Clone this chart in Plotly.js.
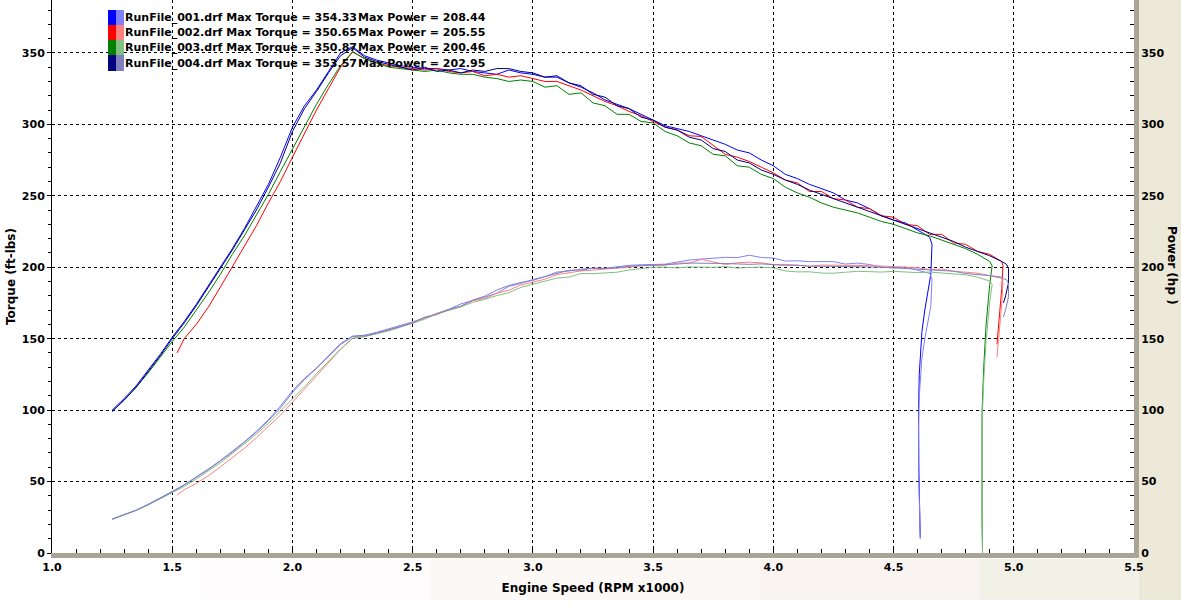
<!DOCTYPE html>
<html>
<head>
<meta charset="utf-8">
<script src="https://cdn.plot.ly/plotly-3.0.1.min.js"></script>
<style>html,body{margin:0;padding:0;background:#fff;}#chart{width:1181px;height:616px;}</style>
</head>
<body>
<div id="chart"></div>
<script>
// ---- Data ----
const runNames = ["RunFile_001.drf", "RunFile_002.drf", "RunFile_003.drf", "RunFile_004.drf"];
const maxTorque = ["354.33", "350.65", "350.87", "353.57"];
const maxPower = ["208.44", "205.55", "200.46", "202.95"];

const rpm001 = [1.25,1.30,1.35,1.40,1.45,1.50,1.55,1.60,1.65,1.70,1.75,1.80,1.85,1.90,1.95,2.00,2.05,2.10,2.15,2.20,2.25,
2.30,2.35,2.40,2.45,2.50,2.55,2.60,2.65,2.70,2.75,2.80,2.85,2.90,2.95,
3.00,3.05,3.10,3.15,3.20,3.25,3.30,3.35,3.40,3.45,3.50,3.55,3.60,3.65,3.70,3.75,3.80,3.85,3.90,3.95,
4.00,4.05,4.10,4.15,4.20,4.25,4.30,4.35,4.40,4.45,4.50,4.55,4.60,4.65,
4.66,4.655,4.63,4.618,4.607,4.604,4.605,4.608,4.611];
const tq001 = [100,108,117,128,139,151,162,174,187,200,213,227,242,258,277,298,313,324,337,350,354.3,
348,345,343,341,340,339,339,338,339,337,336,335,338,336,
335,333,333,329,326,322,317,314,311,307,303,299,297,295,292,289,286,282,280,275,
271,265,262,258,255,252,247,245,241,236,233,231,226,221,
216,195,170,155,125,100,60,30,11];
const hp001 = [23.8,26.7,30.1,34.1,38.4,43.1,47.8,53.0,58.7,64.7,71.0,77.8,85.2,93.3,102.8,113.5,122.2,129.5,138.0,146.6,151.8,
152.4,154.4,156.7,159.1,161.8,164.6,167.8,170.5,174.3,176.5,179.1,181.8,186.6,188.7,
191.4,193.4,196.6,197.3,198.6,199.3,199.2,200.3,201.3,201.7,201.9,202.1,203.6,205.0,205.7,206.4,206.9,206.7,208.4,206.8,
206.4,204.3,204.5,203.9,203.9,203.9,202.2,202.9,201.9,200.0,199.6,200.1,197.9,195.7,
191.6,172.8,149.9,136.3,109.7,87.7,52.6,26.3,9.7];

const rpm002 = [1.52,1.55,1.60,1.65,1.70,1.75,1.80,1.85,1.90,1.95,2.00,2.05,2.10,2.15,2.20,2.25,
2.30,2.35,2.40,2.45,2.50,2.55,2.60,2.65,2.70,2.75,2.80,2.85,2.90,2.95,
3.00,3.05,3.10,3.15,3.20,3.25,3.30,3.35,3.40,3.45,3.50,3.55,3.60,3.65,3.70,3.75,3.80,3.85,3.90,3.95,
4.00,4.05,4.10,4.15,4.20,4.25,4.30,4.35,4.40,4.45,4.50,4.55,4.60,4.65,4.70,4.75,4.80,4.85,4.90,4.95,
4.955,4.95,4.94,4.93];
const tq002 = [140,150,160,172,186,200,214,229,245,260,277,294,310,325,340,350.6,
346,343,341,340,339,338,339,337,336,337,334,335,333,334,
332,330,330,327,324,320,316,313,309,306,302,298,296,292,291.5,285,279,277,274,270,
266,261,259,253,253,248,247,242,241,236,235,230,229,223,223,217,216,211,209,204,
201,185,165,146];
const hp002 = [40.5,44.3,48.7,54.0,60.2,66.6,73.3,80.7,88.6,96.5,105.5,114.8,124.0,133.0,142.4,150.2,
151.5,153.5,155.8,158.6,161.4,164.1,167.8,170.0,172.7,176.5,178.1,181.8,183.9,187.6,
189.6,191.6,194.8,196.1,197.4,198.0,198.6,199.6,200.0,201.0,201.3,201.4,202.9,202.9,205.5,203.5,201.9,203.1,203.5,203.1,
201.8,202.0,201.4,200.7,201.5,201.5,201.4,201.3,201.1,200.8,200.5,200.1,199.7,198.3,198.7,197.2,196.5,195.8,194.1,193.2,
189.6,174.4,155.2,137.0];

const rpm003 = [1.25,1.30,1.35,1.40,1.45,1.50,1.55,1.60,1.65,1.70,1.75,1.80,1.85,1.90,1.95,2.00,2.05,2.10,2.15,2.20,2.25,
2.30,2.35,2.40,2.45,2.50,2.55,2.60,2.65,2.70,2.75,2.80,2.85,2.90,2.95,
3.00,3.05,3.10,3.15,3.20,3.25,3.30,3.35,3.40,3.45,3.50,3.55,3.60,3.65,3.70,3.75,3.80,3.85,3.90,3.95,
4.00,4.05,4.10,4.15,4.20,4.25,4.30,4.35,4.40,4.45,4.50,4.55,4.60,4.65,4.70,4.75,4.80,4.85,4.90,
4.91,4.90,4.885,4.875,4.868,4.867,4.868,4.870];
const tq003 = [99,107,116,126,137,148,158,170,182,195,209,222,236,251,267,283,298,314,328,341,350.9,
346,343,340,339,338,337,338,336,335,335,333,332,330,331,
330,326,327,321,322,315,313,307,307,302,301,295,292,287,285,279,278,271,270,265,
262,256,252,249,245,242,240,238,235,232,230,227,224,222,219,216,213,209,204,
201,188,160,130,98,60,25,0];
const hp003 = [23.6,26.5,29.8,33.6,37.8,42.3,46.6,51.8,57.2,63.1,69.6,76.1,83.1,90.8,99.1,107.8,116.3,125.5,134.3,142.8,150.3,
151.5,153.5,155.4,158.1,160.9,163.6,167.3,169.5,172.2,175.4,177.5,180.2,182.2,185.9,
187.9,189.9,192.4,193.1,195.6,195.5,196.0,196.5,198.1,199.0,199.9,200.1,199.5,200.2,200.1,199.9,200.4,199.4,199.8,200.1,
199.5,197.4,196.7,196.8,195.9,195.8,196.5,197.1,196.9,196.6,197.1,196.7,196.2,196.6,196.0,195.4,194.7,193.0,190.3,
187.9,175.4,148.8,120.7,90.8,55.6,23.2,0];

const rpm004 = [1.25,1.30,1.35,1.40,1.45,1.50,1.55,1.60,1.65,1.70,1.75,1.80,1.85,1.90,1.95,2.00,2.05,2.10,2.15,2.20,2.25,
2.30,2.35,2.40,2.45,2.50,2.55,2.60,2.65,2.70,2.75,2.80,2.85,2.90,2.95,
3.00,3.05,3.10,3.15,3.20,3.25,3.30,3.35,3.40,3.45,3.50,3.55,3.60,3.65,3.70,3.75,3.80,3.85,3.90,3.95,
4.00,4.05,4.10,4.15,4.20,4.25,4.30,4.35,4.40,4.45,4.50,4.55,4.60,4.65,4.70,4.75,4.80,4.85,4.90,4.95,
4.97,4.978,4.978,4.966,4.957];
const tq004 = [99,107,116,127,138,150,161,173,186,199,212,226,240,256,273,295,311,323,336,348,353.6,
347,344,342,340,338,340,337,338,336,338,337,339,339,337,
336,333,334,329,327,321,319,313,311,305,303,298,296,291,289,283,281,275,273,268,
265,261,258,254,251,248,245,242,239,236,233,230,227,224,221,218,214,211,208,204,
202,199,189,180,175];
const hp004 = [23.6,26.5,29.8,33.9,38.1,42.8,47.5,52.7,58.4,64.4,70.6,77.5,84.5,92.6,101.4,112.3,121.4,129.2,137.5,145.8,151.5,
152.0,153.9,156.3,158.6,160.9,165.1,166.8,170.5,172.7,177.0,179.7,184.0,187.2,189.3,
190.8,193.4,195.4,197.9,198.0,199.3,199.2,199.6,200.7,201.0,201.3,202.1,202.2,202.9,202.9,202.8,202.6,202.3,202.0,202.3,
201.8,201.3,201.4,200.7,200.7,200.7,200.6,200.4,200.2,200.0,199.6,199.3,198.8,198.3,197.8,197.2,195.6,194.8,194.1,192.3,
191.2,188.6,179.1,170.2,165.2];

const xTicks = [1.0,1.5,2.0,2.5,3.0,3.5,4.0,4.5,5.0,5.5];
const yTicks = [0,50,100,150,200,250,300,350];

// ---- Styles ----
const torqueColors = ["#0000ff", "#ff0000", "#008000", "#000080"];
const powerColors = ["#8080ff", "#ff8080", "#80c080", "#8080c0"];
const FONT = "DejaVu Sans";

const rpms = [rpm001, rpm002, rpm003, rpm004];
const tqs = [tq001, tq002, tq003, tq004];
const hps = [hp001, hp002, hp003, hp004];

const traces = [];
for (let i = 0; i < 4; i++) {
  traces.push({type: "scatter", mode: "lines", x: rpms[i], y: hps[i], yaxis: "y2",
    name: runNames[i] + " Power", line: {color: powerColors[i], width: 1}, hoverinfo: "skip"});
}
for (let i = 0; i < 4; i++) {
  traces.push({type: "scatter", mode: "lines", x: rpms[i], y: tqs[i], yaxis: "y",
    name: runNames[i] + " Torque", line: {color: torqueColors[i], width: 1}, hoverinfo: "skip"});
}

// pixel -> paper helpers for the legend block and background bands
const PL = 52, PR = 1134, PT = 0, PB = 553;
const px = v => (v - PL) / (PR - PL);
const py = v => (PB - v) / (PB - PT);

const shapes = [
  {type: "rect", xref: "paper", yref: "paper", x0: px(1139), x1: px(1181), y0: py(600), y1: py(0), fillcolor: "#ece9d8", line: {width: 0}, layer: "below"},
  {type: "rect", xref: "paper", yref: "paper", x0: px(200), x1: px(430), y0: py(600), y1: py(559), fillcolor: "#fefcfc", line: {width: 0}, layer: "below"},
  {type: "rect", xref: "paper", yref: "paper", x0: px(430), x1: px(760), y0: py(600), y1: py(559), fillcolor: "#fbf8f6", line: {width: 0}, layer: "below"},
  {type: "rect", xref: "paper", yref: "paper", x0: px(760), x1: px(980), y0: py(600), y1: py(559), fillcolor: "#f9f3f1", line: {width: 0}, layer: "below"},
  {type: "rect", xref: "paper", yref: "paper", x0: px(980), x1: px(1139), y0: py(600), y1: py(559), fillcolor: "#f2f1e7", line: {width: 0}, layer: "below"}
];
const annotations = [];
const rowTop = [10, 25, 40, 55], rowBot = [25, 40, 55, 71], rowMid = [17.5, 32.5, 47.5, 63];
for (let i = 0; i < 4; i++) {
  shapes.push({type: "rect", xref: "paper", yref: "paper", x0: px(108), x1: px(116), y0: py(rowBot[i]), y1: py(rowTop[i]),
    fillcolor: torqueColors[i], line: {width: 0}, layer: "above"});
  shapes.push({type: "rect", xref: "paper", yref: "paper", x0: px(116), x1: px(124), y0: py(rowBot[i]), y1: py(rowTop[i]),
    fillcolor: powerColors[i], line: {width: 0}, layer: "above"});
  annotations.push({xref: "paper", yref: "paper", x: px(124), y: py(rowMid[i]), xanchor: "left", yanchor: "middle",
    text: runNames[i] + " Max Torque = " + maxTorque[i], showarrow: false, borderpad: 0,
    font: {family: FONT, size: 11, color: "#000", weight: "bold"}});
  annotations.push({xref: "paper", yref: "paper", x: px(357), y: py(rowMid[i]), xanchor: "left", yanchor: "middle",
    text: "Max Power = " + maxPower[i], showarrow: false, borderpad: 0,
    font: {family: FONT, size: 11, color: "#000", weight: "bold"}});
}
annotations.push({xref: "paper", yref: "paper", x: px(1172), y: py(265), xanchor: "center", yanchor: "middle",
  text: "Power (hp )", textangle: 90, showarrow: false, font: {family: FONT, size: 12, color: "#000", weight: "bold"}});

const tickFont = {family: FONT, size: 11, color: "#000", weight: "bold"};
const layout = {
  width: 1181, height: 616,
  margin: {l: PL, r: 1181 - PR, t: PT, b: 616 - PB, pad: 0},
  paper_bgcolor: "#ffffff", plot_bgcolor: "#ffffff",
  showlegend: false,
  font: {family: FONT, size: 11, color: "#000"},
  xaxis: {
    range: [1, 5.5], tickmode: "array", tickvals: xTicks, ticktext: xTicks.map(v => v.toFixed(1)),
    ticks: "inside", ticklen: 5, tickcolor: "#000", tickfont: tickFont,
    showline: true, linecolor: "#a8a496", linewidth: 5,
    showgrid: true, gridcolor: "#000", gridwidth: 1, griddash: "3px,3px",
    zeroline: false,
    minor: {dtick: 0.1, tick0: 1, ticks: "inside", ticklen: 4, tickcolor: "#000", showgrid: false},
    title: {text: "Engine Speed (RPM x1000)", font: {family: FONT, size: 12, color: "#000", weight: "bold"}, standoff: 12}
  },
  yaxis: {
    range: [0, 387], tickmode: "array", tickvals: yTicks,
    ticks: "outside", ticklen: 4, tickcolor: "#000", tickfont: tickFont,
    showline: true, linecolor: "#000", linewidth: 1,
    showgrid: true, gridcolor: "#000", gridwidth: 1, griddash: "3px,3px",
    zeroline: true, zerolinecolor: "#000", zerolinewidth: 1,
    minor: {dtick: 10, tick0: 0, ticks: "outside", ticklen: 3, tickcolor: "#000", showgrid: false},
    title: {text: "Torque (ft-lbs)", font: {family: FONT, size: 12, color: "#000", weight: "bold"}, standoff: 3}
  },
  yaxis2: {
    range: [0, 387], overlaying: "y", side: "right", tickmode: "array", tickvals: yTicks,
    ticks: "inside", ticklen: 6, tickcolor: "#000", tickfont: tickFont,
    showline: true, linecolor: "#a8a496", linewidth: 5,
    showgrid: false, zeroline: false,
    minor: {dtick: 10, tick0: 0, ticks: "inside", ticklen: 4, tickcolor: "#000", showgrid: false}
  },
  shapes: shapes,
  annotations: annotations
};

Plotly.newPlot("chart", traces, layout, {staticPlot: true, displayModeBar: false});
</script>
</body>
</html>
